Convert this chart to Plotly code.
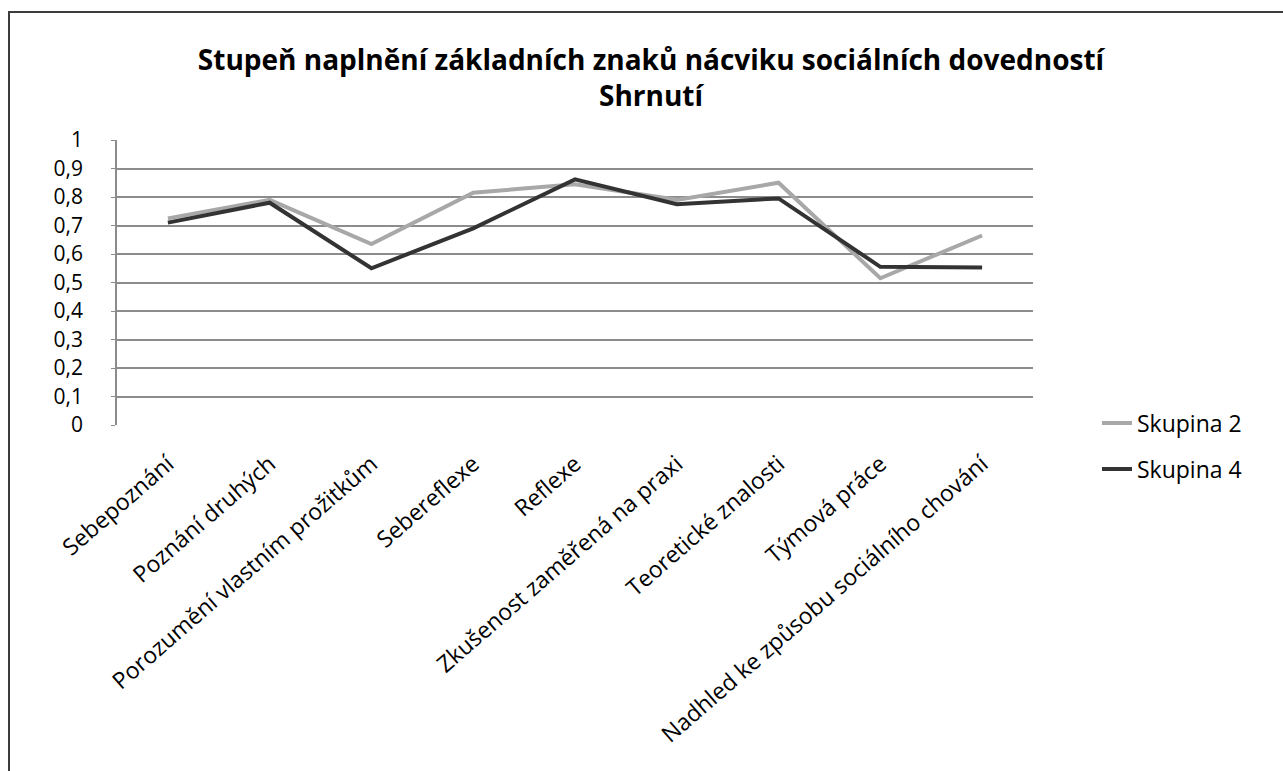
import plotly.graph_objects as go

categories = [
    "Sebepoznání",
    "Poznání druhých",
    "Porozumění vlastním prožitkům",
    "Sebereflexe",
    "Reflexe",
    "Zkušenost zaměřená na praxi",
    "Teoretické znalosti",
    "Týmová práce",
    "Nadhled ke způsobu sociálního chování",
]
skupina_2 = [0.725, 0.79, 0.635, 0.815, 0.845, 0.79, 0.85, 0.515, 0.665]
skupina_4 = [0.71, 0.78, 0.55, 0.69, 0.862, 0.775, 0.795, 0.555, 0.553]
y_ticks = [0, 0.1, 0.2, 0.3, 0.4, 0.5, 0.6, 0.7, 0.8, 0.9, 1]
y_tick_text = ["0", "0,1", "0,2", "0,3", "0,4", "0,5", "0,6", "0,7", "0,8", "0,9", "1"]

FONT = "Open Sans"
TICK_SIZE = 23
Y_TICK_SIZE = 21
W, H = 1283, 771
L, R, T, B = 117, 1033, 140, 425  # plot area in pixels

fig = go.Figure()
fig.add_trace(go.Scatter(
    x=categories, y=skupina_2, mode="lines", name="Skupina 2",
    line=dict(color="#a8a8a8", width=4), legend="legend", showlegend=True,
))
fig.add_trace(go.Scatter(
    x=categories, y=skupina_4, mode="lines", name="Skupina 4",
    line=dict(color="#333333", width=4), legend="legend2", showlegend=True,
))


def px_x(p):
    return (p - L) / (R - L)


def px_y(p):
    return (B - p) / (B - T)


legend_style = dict(
    xanchor="left", yanchor="middle",
    font=dict(family=FONT, size=TICK_SIZE, color="#000000"),
    bgcolor="rgba(0,0,0,0)", visible=True,
)

fig.update_layout(
    width=W, height=H, showlegend=True,
    margin=dict(l=L, r=W - R, t=T, b=H - B, autoexpand=False),
    paper_bgcolor="white", plot_bgcolor="white",
    font=dict(family=FONT, size=TICK_SIZE, color="#000000"),
    title=dict(
        text="<b>Stupeň naplnění základních znaků nácviku sociálních dovedností<br>Shrnutí</b>",
        x=px_x(651), xanchor="center", xref="paper",
        y=1 - 70 / H, yanchor="middle", yref="container",
        font=dict(family=FONT, size=28, color="#000000"),
    ),
    xaxis=dict(
        type="category", range=[-0.5, len(categories) - 0.5],
        showgrid=False, showline=False, zeroline=False,
        tickangle=-41, ticks="", ticklabelstandoff=20,
        tickfont=dict(family=FONT, size=TICK_SIZE, color="#000000"),
    ),
    yaxis=dict(
        range=[0, 1], tickvals=y_ticks, ticktext=y_tick_text,
        showgrid=True, gridcolor="#8c8c8c", gridwidth=1.5,
        showline=True, linecolor="#8c8c8c", linewidth=1.5,
        ticks="outside", ticklen=4, tickcolor="#8c8c8c",
        zeroline=False, ticklabelstandoff=24,
        tickfont=dict(family=FONT, size=Y_TICK_SIZE, color="#000000"),
    ),
    legend=dict(x=px_x(1097), y=px_y(423), **legend_style),
    legend2=dict(x=px_x(1097), y=px_y(469), **legend_style),
    shapes=[
        dict(
            type="rect", xref="paper", yref="paper",
            x0=px_x(9), x1=px_x(1300), y0=px_y(800), y1=px_y(12),
            line=dict(color="#3c3c3c", width=2), fillcolor="rgba(0,0,0,0)",
            layer="below",
        )
    ],
)

fig.write_html("out.html")
